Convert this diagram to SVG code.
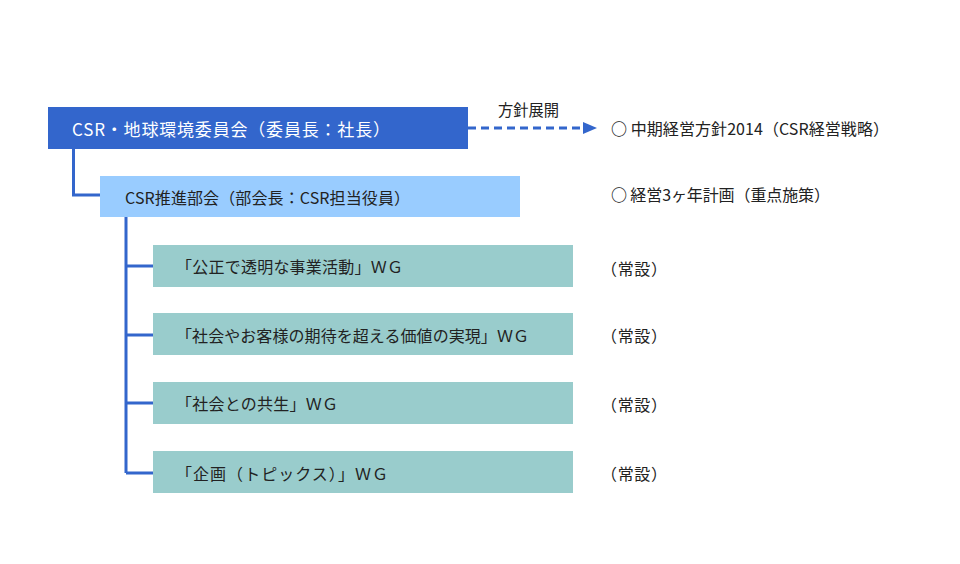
<svg xmlns="http://www.w3.org/2000/svg" width="960" height="564" viewBox="0 0 960 564">
<defs>
<style>
.t{font-family:"Noto Sans CJK JP","Noto Sans",sans-serif;font-size:16px;fill:#222;dominant-baseline:central}
.w{fill:#fff;font-size:17px}
.b{font-weight:700}
.wg{fill:#99CCCC}
.ln{fill:none;stroke:#3366CC;stroke-width:3}
</style>
</defs>
<rect width="960" height="564" fill="#fff"/>
<g id="connectors">
<path class="ln" d="M73.5 149 V195 H100"/>
<path class="ln" d="M126 217 V473 M126 266 H153 M126 335 H153 M126 403 H153 M126 473 H153"/>
<line x1="468" y1="128" x2="584" y2="128" stroke="#3366CC" stroke-width="3" stroke-dasharray="8 5"/>
<polygon points="583,122 597,128 583,134" fill="#3366CC"/>
<text class="t" x="498" y="108.5" textLength="61" lengthAdjust="spacingAndGlyphs">方針展開</text>
</g>
<g id="committee">
<rect x="48" y="107" width="420" height="42" fill="#3366CC"/>
<text class="t w" x="72" y="128" textLength="318" lengthAdjust="spacing">CSR・地球環境委員会（委員長：社長）</text>
</g>
<g id="promotion">
<rect x="100" y="176" width="420" height="41" fill="#99CCFF"/>
<text class="t" x="125" y="196.5" textLength="285" lengthAdjust="spacing">CSR推進部会（部会長：CSR担当役員）</text>
</g>
<g id="wg1">
<rect class="wg" x="153" y="245" width="420" height="42"/>
<text class="t" x="176" y="266" textLength="227" lengthAdjust="spacing">「公正で透明な事業活動」ＷＧ</text>
</g>
<g id="wg2">
<rect class="wg" x="153" y="313" width="420" height="42"/>
<text class="t" x="176" y="335" textLength="353" lengthAdjust="spacing">「社会やお客様の期待を超える価値の実現」ＷＧ</text>
</g>
<g id="wg3">
<rect class="wg" x="153" y="382" width="420" height="42"/>
<text class="t" x="176" y="403" textLength="162" lengthAdjust="spacing">「社会との共生」ＷＧ</text>
</g>
<g id="wg4">
<rect class="wg" x="153" y="451" width="420" height="42"/>
<text class="t" x="176" y="473" textLength="212" lengthAdjust="spacing">「企画（トピックス）」ＷＧ</text>
</g>
<g id="notes">
<text class="t" x="611" y="128" textLength="278" lengthAdjust="spacing"><tspan class="b">○</tspan> 中期経営方針2014（CSR経営戦略）</text>
<text class="t" x="611" y="194" textLength="219" lengthAdjust="spacing"><tspan class="b">○</tspan> 経営3ヶ年計画（重点施策）</text>
<text class="t" x="601" y="268" textLength="66" lengthAdjust="spacing">（常設）</text>
<text class="t" x="601" y="335" textLength="66" lengthAdjust="spacing">（常設）</text>
<text class="t" x="601" y="404" textLength="66" lengthAdjust="spacing">（常設）</text>
<text class="t" x="601" y="473" textLength="66" lengthAdjust="spacing">（常設）</text>
</g>
</svg>
